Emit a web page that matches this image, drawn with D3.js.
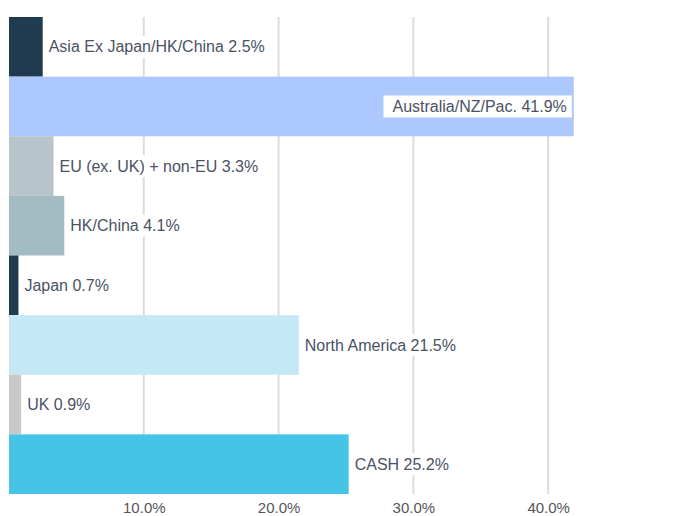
<!DOCTYPE html>
<html>
<head>
<meta charset="utf-8">
<script src="https://cdn.jsdelivr.net/npm/d3@7"></script>
<style>
  body { margin: 0; background: #ffffff; }
  svg { display: block; font-family: "Liberation Sans", Arial, sans-serif; }
</style>
</head>
<body>
<script>

// chart data
var regions = ["Asia Ex Japan/HK/China", "Australia/NZ/Pac.", "EU (ex. UK) + non-EU",
               "HK/China", "Japan", "North America", "UK", "CASH"];
var weights = [2.5, 41.9, 3.3, 4.1, 0.7, 21.5, 0.9, 25.2];
var barColors = ["#203b4f", "#adc8fc", "#b8c4cc", "#a3bcc2", "#203b4f", "#c5e8f7", "#c8c8c8", "#45c4e8"];
var tickValues = [10, 20, 30, 40];

// canvas settings
var canvasX = 673;
var canvasY = 516;
var plotTop = 17;
var plotBottom = 494;

window.onload = function() {

    var svg = d3.select("body")
                .append("svg")
                .attr("width", canvasX)
                .attr("height", canvasY);

    // scales
    var scaleX = d3.scaleLinear()
                   .domain([0, 48])
                   .range([9, 656]);

    var scaleY = d3.scaleBand()
                   .domain(regions)
                   .range([plotTop, plotBottom])
                   .padding(0);

    // gridlines
    svg.selectAll(".grid")
       .data(tickValues)
       .enter()
       .append("line")
       .attr("class", "grid")
       .attr("x1", function(d) { return scaleX(d); })
       .attr("x2", function(d) { return scaleX(d); })
       .attr("y1", plotTop)
       .attr("y2", plotBottom)
       .attr("stroke", "#dcdcdc")
       .attr("stroke-width", 2);

    // x axis labels through d3 axis
    var xAxis = d3.axisBottom(scaleX)
                  .tickValues(tickValues)
                  .tickSize(0)
                  .tickPadding(8)
                  .tickFormat(function(d) { return d.toFixed(1) + "%"; });

    var gx = svg.append("g")
                .attr("transform", "translate(0," + plotBottom + ")")
                .call(xAxis);
    gx.select(".domain").remove();
    gx.selectAll("text")
      .style("font-family", "'Liberation Sans', Arial, sans-serif")
      .style("font-size", "15px")
      .attr("fill", "#555555");

    // bars
    svg.selectAll(".bar")
       .data(regions)
       .enter()
       .append("rect")
       .attr("class", "bar")
       .attr("x", scaleX(0))
       .attr("y", function(d) { return scaleY(d); })
       .attr("width", function(d, i) { return scaleX(weights[i]) - scaleX(0); })
       .attr("height", scaleY.bandwidth())
       .attr("fill", function(d, i) { return barColors[i]; });

    // labels with white background
    var labels = svg.selectAll(".label")
                    .data(regions)
                    .enter()
                    .append("g")
                    .attr("class", "label");

    labels.each(function(d, i) {
        var g = d3.select(this);
        var cy = scaleY(d) + scaleY.bandwidth() / 2;
        var end = scaleX(weights[i]);

        var text = g.append("text")
                    .attr("y", cy)
                    .attr("dy", "0.35em")
                    .style("font-size", "16px")
                    .attr("fill", "#4a5263")
                    .text(d + " " + weights[i].toFixed(1) + "%");

        var w = text.node().getComputedTextLength();
        var x = end + 6;
        var boxLeft = end + 1;
        var boxRight = x + w + 5;

        // place inside bar when it does not fit
        if (x + w > canvasX - 10) {
            x = end - 7 - w;
            boxLeft = x - 9;
            boxRight = end - 2;
        }
        text.attr("x", x);

        g.insert("rect", "text")
         .attr("x", boxLeft)
         .attr("y", cy - 11)
         .attr("width", boxRight - boxLeft)
         .attr("height", 22)
         .attr("fill", "#ffffff");
    });
};
</script>
</body>
</html>
